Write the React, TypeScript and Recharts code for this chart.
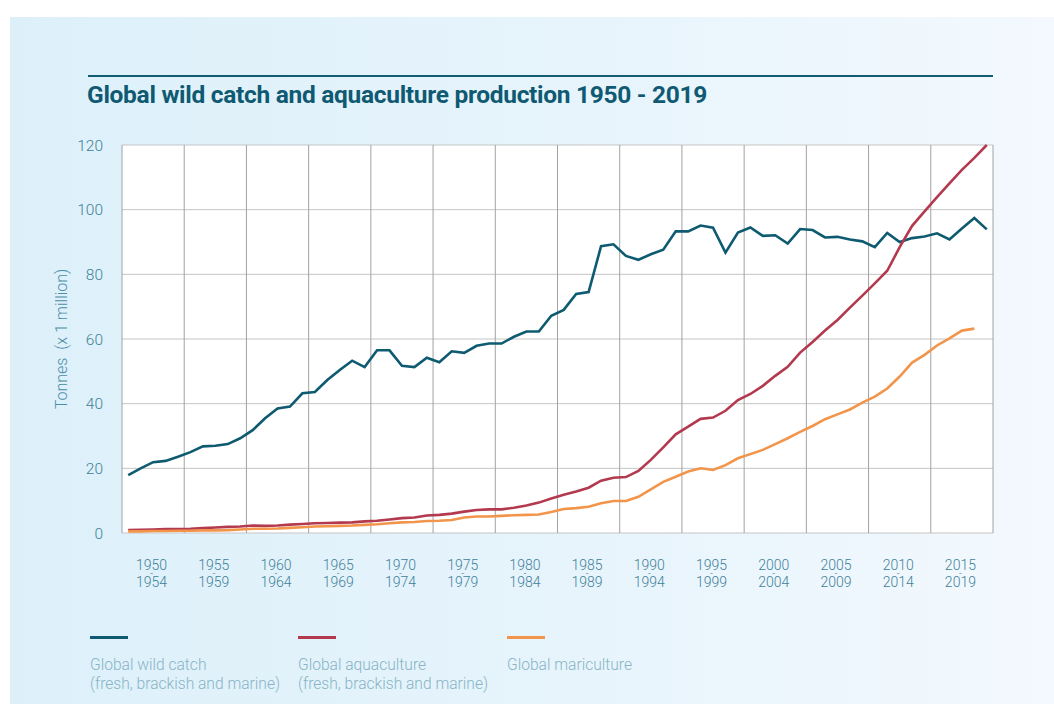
import { CartesianGrid, Label, Line, LineChart, XAxis, YAxis } from "recharts";

const YEARS = [
  1950, 1951, 1952, 1953, 1954, 1955, 1956, 1957, 1958, 1959,
  1960, 1961, 1962, 1963, 1964, 1965, 1966, 1967, 1968, 1969,
  1970, 1971, 1972, 1973, 1974, 1975, 1976, 1977, 1978, 1979,
  1980, 1981, 1982, 1983, 1984, 1985, 1986, 1987, 1988, 1989,
  1990, 1991, 1992, 1993, 1994, 1995, 1996, 1997, 1998, 1999,
  2000, 2001, 2002, 2003, 2004, 2005, 2006, 2007, 2008, 2009,
  2010, 2011, 2012, 2013, 2014, 2015, 2016, 2017, 2018, 2019,
];

// million tonnes
const WILD_CATCH = [
  17.9, 20.0, 21.9, 22.3, 23.6, 25.0, 26.8, 27.0, 27.5, 29.3,
  31.8, 35.5, 38.5, 39.1, 43.2, 43.6, 47.3, 50.4, 53.3, 51.3,
  56.5, 56.5, 51.7, 51.3, 54.2, 52.8, 56.2, 55.7, 57.9, 58.6,
  58.6, 60.7, 62.3, 62.3, 67.2, 69.0, 73.9, 74.5, 88.7, 89.3,
  85.7, 84.5, 86.2, 87.6, 93.3, 93.3, 95.1, 94.4, 86.7, 92.9,
  94.5, 91.9, 92.1, 89.5, 94.0, 93.7, 91.4, 91.6, 90.8, 90.2,
  88.4, 92.8, 90.0, 91.2, 91.7, 92.7, 90.8, 94.2, 97.4, 93.9,
];

const AQUACULTURE = [
  0.9, 1.0, 1.1, 1.2, 1.2, 1.3, 1.5, 1.7, 1.9, 2.0,
  2.3, 2.2, 2.3, 2.6, 2.8, 3.0, 3.1, 3.2, 3.3, 3.6,
  3.8, 4.2, 4.6, 4.8, 5.4, 5.6, 6.0, 6.6, 7.1, 7.3,
  7.3, 7.8, 8.5, 9.4, 10.7, 11.8, 12.8, 14.0, 16.2, 17.1,
  17.3, 19.2, 22.6, 26.5, 30.5, 32.9, 35.3, 35.7, 37.8, 41.1,
  43.0, 45.5, 48.6, 51.4, 55.8, 59.1, 62.6, 65.9, 69.7, 73.4,
  77.2, 81.1, 88.4, 95.0, 99.5, 103.9, 108.1, 112.3, 116.0, 120.0,
];

const MARICULTURE = [
  0.5, 0.5, 0.6, 0.6, 0.7, 0.7, 0.8, 0.8, 0.9, 1.1,
  1.3, 1.3, 1.4, 1.6, 1.8, 2.0, 2.1, 2.2, 2.3, 2.5,
  2.7, 3.0, 3.3, 3.4, 3.7, 3.8, 4.0, 4.8, 5.1, 5.1,
  5.3, 5.5, 5.6, 5.7, 6.5, 7.4, 7.7, 8.1, 9.2, 9.9,
  9.9, 11.2, 13.5, 15.8, 17.4, 19.0, 20.0, 19.5, 21.0, 23.1,
  24.4, 25.7, 27.5, 29.3, 31.3, 33.1, 35.2, 36.7, 38.2, 40.3,
  42.2, 44.7, 48.4, 52.7, 55.1, 58.0, 60.2, 62.6, 63.2,
];

const PERIOD_START = ["1950", "1955", "1960", "1965", "1970", "1975", "1980", "1985", "1990", "1995", "2000", "2005", "2010", "2015"];
const PERIOD_END = ["1954", "1959", "1964", "1969", "1974", "1979", "1984", "1989", "1994", "1999", "2004", "2009", "2014", "2019"];
const Y_TICKS = [0, 20, 40, 60, 80, 100, 120];

const SERIES = [
  { key: "wild", name: "Global wild catch", sub: "(fresh, brackish and marine)", color: "#0e5a70" },
  { key: "aqua", name: "Global aquaculture", sub: "(fresh, brackish and marine)", color: "#b3394f" },
  { key: "mari", name: "Global mariculture", sub: "", color: "#f2954a" },
];

const data = YEARS.map((year, i) => ({
  year,
  wild: WILD_CATCH[i],
  aqua: AQUACULTURE[i],
  mari: MARICULTURE[i] ?? null,
}));

// 5-year bins: edges for the grid, centres for the labels
const edges = [...PERIOD_START.map((s) => Number(s) - 0.5), Number(PERIOD_END[PERIOD_END.length - 1]) + 0.5];
const centers = PERIOD_START.map((s) => Number(s) + 2);
const domain = [edges[0], edges[edges.length - 1]];

const FONT = "Roboto, 'Noto Sans', sans-serif";
const GRID_V = "#a2a2a2";
const GRID_H = "#c5c5c5";

function EdgeTick({ x, y, payload }: any) {
  if (payload.value === domain[0] || payload.value === domain[1]) return <g />;
  return <line x1={x} x2={x} y1={y} y2={y + 42} stroke={GRID_V} strokeWidth={1} />;
}

function PeriodTick({ x, y, payload }: any) {
  const i = centers.indexOf(payload.value);
  const cx = x - 1.5;
  return (
    <text x={cx} y={y + 37} textAnchor="middle" fill="#3f8199" fontFamily={FONT} fontSize={14} fontWeight={300}>
      <tspan x={cx}>{PERIOD_START[i]}</tspan>
      <tspan x={cx} dy={7} fontSize={10}>-</tspan>
      <tspan x={cx} dy={10}>{PERIOD_END[i]}</tspan>
    </text>
  );
}

function YTitle({ viewBox }: any) {
  const cx = viewBox.x + 19;
  const cy = viewBox.y + viewBox.height / 2;
  return (
    <text
      x={cx}
      y={cy}
      transform={`rotate(-90 ${cx} ${cy})`}
      textAnchor="middle"
      dominantBaseline="central"
      fill="#4b8ea7"
      fontFamily={FONT}
      fontSize={16}
      fontWeight={300}
    >
      {"Tonnes\u00A0 (x 1 million)"}
    </text>
  );
}

export default function App() {
  return (
    <div style={{ position: "fixed", left: 0, top: 0, width: 1054, height: 704, background: "#fff", overflow: "hidden", fontFamily: FONT }}>
      <div
        style={{
          position: "absolute",
          left: 10,
          top: 17,
          right: 0,
          bottom: 0,
          background: "linear-gradient(90deg, #ddf0fa 0%, #e7f4fc 55%, #f3f9fe 100%)",
        }}
      />
      <div style={{ position: "absolute", left: 88, top: 75, width: 905, height: 2, background: "#135d73" }} />
      <div
        style={{
          position: "absolute",
          left: 87,
          top: 82,
          fontSize: 24.5,
          lineHeight: "26px",
          fontWeight: 700,
          color: "#0f5a72",
          letterSpacing: -0.3,
          whiteSpace: "nowrap",
        }}
      >
        Global wild catch and aquaculture production 1950 - 2019
      </div>

      <LineChart
        width={1054}
        height={704}
        data={data}
        margin={{ top: 145, right: 61, bottom: 111, left: 42 }}
        style={{ position: "absolute", left: 0, top: 0 }}
      >
        <CartesianGrid vertical={false} stroke={GRID_H} fill="#ffffff" />
        <CartesianGrid horizontal={false} stroke={GRID_V} />
        <XAxis
          dataKey="year"
          type="number"
          domain={domain}
          ticks={edges}
          interval={0}
          height={0}
          tickSize={0}
          tickMargin={0}
          tickLine={false}
          tick={<EdgeTick />}
          axisLine={{ stroke: GRID_V }}
          allowDataOverflow
        />
        <XAxis
          xAxisId="lbl"
          dataKey="year"
          type="number"
          domain={domain}
          ticks={centers}
          interval={0}
          height={60}
          tickSize={0}
          tickMargin={0}
          tickLine={false}
          axisLine={false}
          tick={<PeriodTick />}
          allowDataOverflow
        />
        <YAxis
          domain={[0, 120]}
          ticks={Y_TICKS}
          width={80}
          axisLine={false}
          tickLine={false}
          tickMargin={13}
          tick={{ fontSize: 15.5, fill: "#3f8199", fontFamily: FONT, fontWeight: 300 }}
        >
          <Label content={<YTitle />} />
        </YAxis>
        {SERIES.map((s) => (
          <Line
            key={s.key}
            dataKey={s.key}
            name={s.name}
            stroke={s.color}
            strokeWidth={2.6}
            dot={false}
            activeDot={false}
            type="linear"
            isAnimationActive={false}
          />
        ))}
      </LineChart>

      {SERIES.map((s, i) => (
        <div key={s.key} style={{ position: "absolute", left: [90, 298, 507][i], top: 636 }}>
          <div style={{ width: 38, height: 3, background: s.color }} />
          <div
            style={{
              marginTop: 17,
              fontSize: 15.6,
              lineHeight: "19px",
              fontWeight: 300,
              color: "#88b4c5",
              whiteSpace: "nowrap",
            }}
          >
            {s.name}
            <br />
            {s.sub}
          </div>
        </div>
      ))}
    </div>
  );
}
